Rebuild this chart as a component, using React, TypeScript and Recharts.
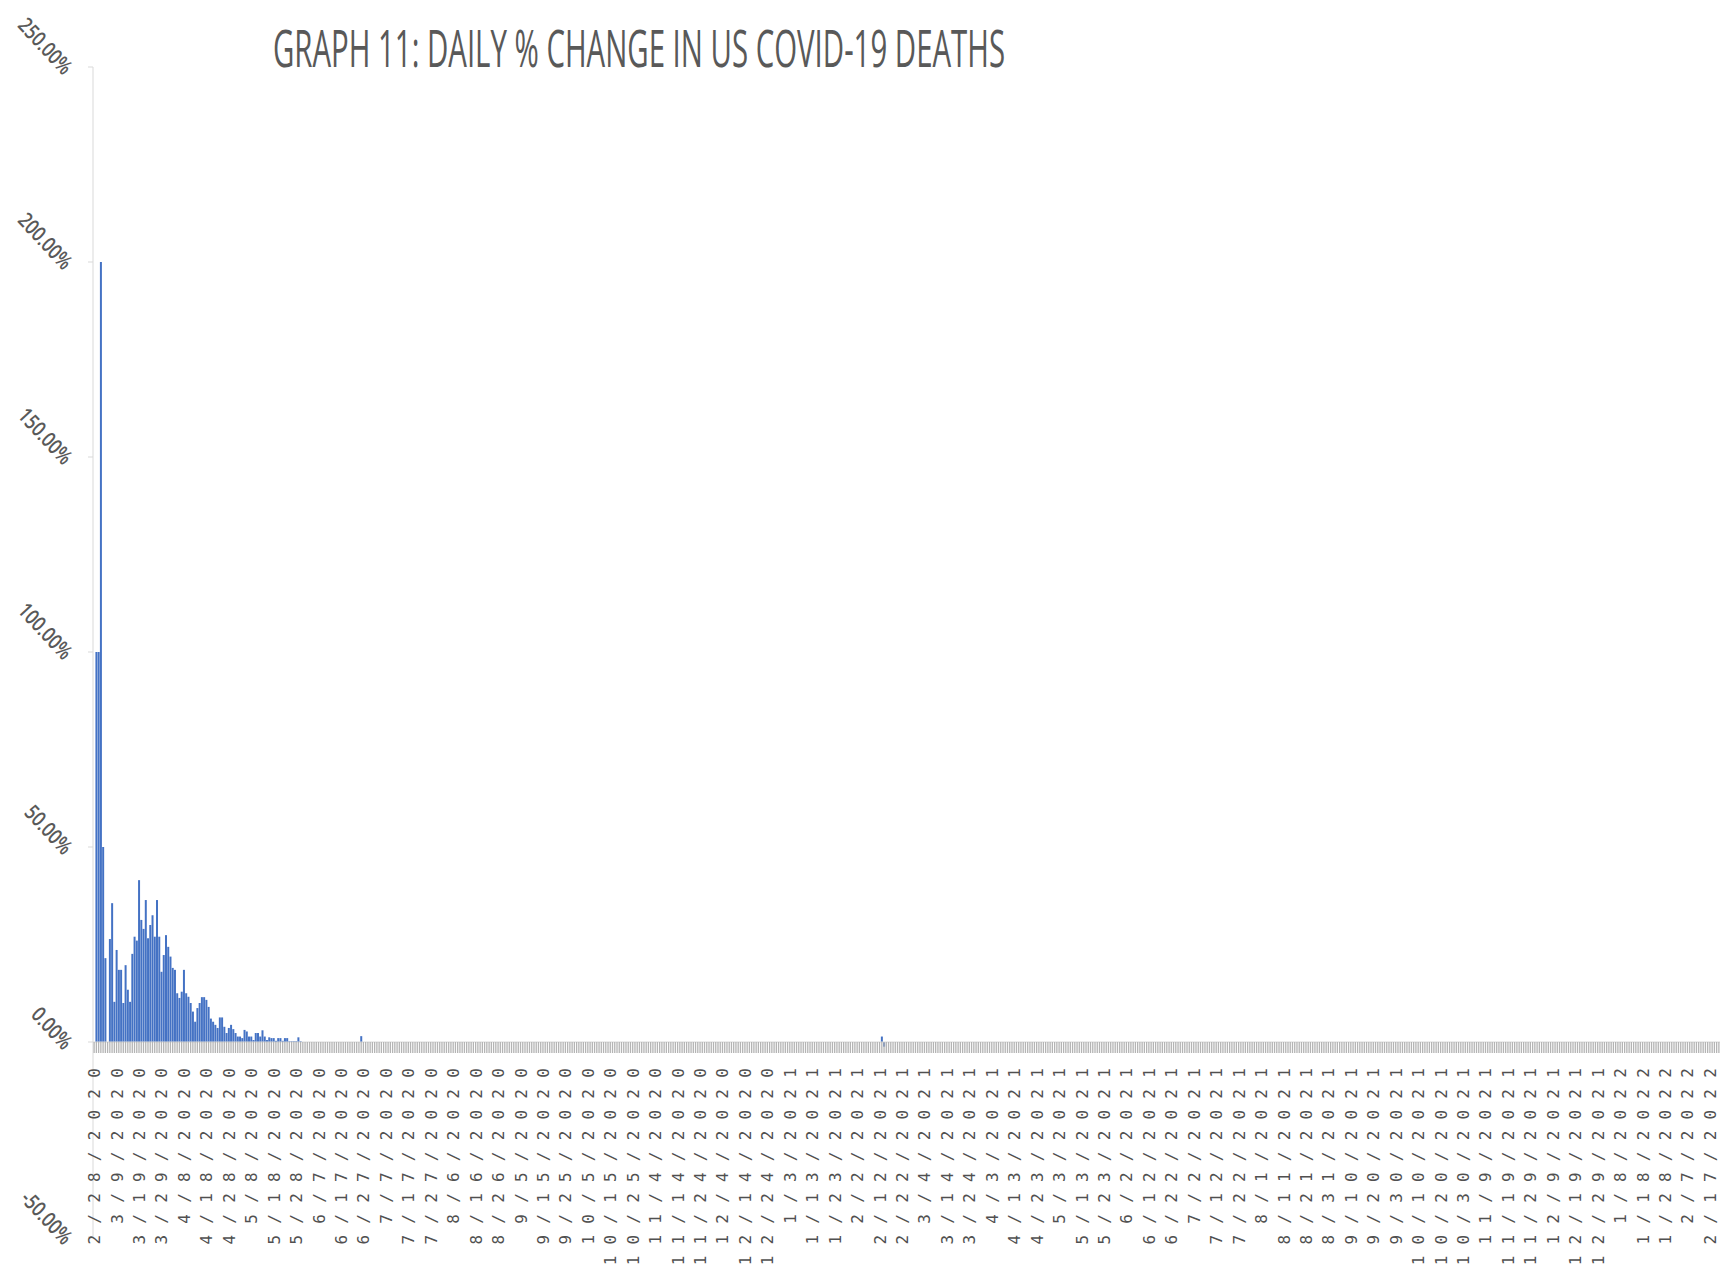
import React from 'react';
import { BarChart, Bar, XAxis, YAxis, ReferenceLine } from 'recharts';

const TITLE = 'GRAPH 11: DAILY % CHANGE IN US COVID-19 DEATHS';

// Category axis: one bar per day, 2/28/2020 .. 2/21/2022 (725 days), label every 10th day
const START_YEAR = 2020;
const START_MONTH = 2;
const START_DAY = 28;
const DAY_COUNT = 725;
const LABEL_EVERY = 10;

const Y_TICKS = [-50, 0, 50, 100, 150, 200, 250];
const Y_MIN = -50;
const Y_MAX = 250;

// Daily % change, starting 2/28/2020 (first 93 days)
const EARLY_VALUES = [
  0, 100, 100, 200, 50, 21.5, 0, 26.4, 35.6, 10.3,
  23.6, 18.5, 18.5, 10, 19.7, 13.4, 10.3, 22.6, 27, 26,
  41.5, 31.3, 29, 36.4, 26.6, 30, 32.5, 27, 36.4, 27,
  18, 22.3, 27.4, 24.4, 21.9, 19, 18.5, 12.5, 11.3, 12.9,
  18.5, 12.5, 11.6, 10, 7.8, 5.2, 8.7, 10, 11.5, 11.5,
  10.8, 9, 6, 5.2, 4.4, 3.6, 6.3, 6.3, 3.9, 2.3,
  3.6, 4.4, 3.3, 2.3, 1.4, 1.4, 1.0, 3.1, 2.7, 1.4,
  1.4, 0.5, 2.3, 2.3, 1.4, 3.0, 1.4, 0.5, 1.2, 1.0,
  1.0, 0.3, 1.0, 1.0, 0.3, 1.0, 1.0, 0.2, 0.2, 0.2,
  0.2, 1.2, 0.2,
];

// Isolated later bars that are visible; every other later day reads as 0.00%
const LATER_DATES = ['6/26/2020', '2/13/2021', '2/14/2021'];
const LATER_VALUES = [1.5, 1.4, -1.2];

// ---- layout ----
const CHART_W = 1734;
const CHART_H = 1278;
const MARGIN = { top: 67, right: 14, left: 13, bottom: 40 };
const Y_AXIS_W = 80;
const X_AXIS_H = 1;
const PLOT_H = CHART_H - MARGIN.top - MARGIN.bottom - X_AXIS_H;
const ZERO_FROM_BOTTOM = (PLOT_H * (0 - Y_MIN)) / (Y_MAX - Y_MIN);

const DATES: string[] = [];
{
  const d = new Date(START_YEAR, START_MONTH - 1, START_DAY);
  for (let i = 0; i < DAY_COUNT; i++) {
    DATES.push(`${d.getMonth() + 1}/${d.getDate()}/${d.getFullYear()}`);
    d.setDate(d.getDate() + 1);
  }
}

const data = DATES.map((date, i) => {
  let value = i < EARLY_VALUES.length ? EARLY_VALUES[i] : 0;
  const k = LATER_DATES.indexOf(date);
  if (k >= 0) value = LATER_VALUES[k];
  return { date, value };
});

const XTick = (props: any) => {
  const { x, y, payload, index } = props;
  const zeroY = y - ZERO_FROM_BOTTOM;
  const showLabel = index % LABEL_EVERY === 0;
  return (
    <g>
      <line x1={x} x2={x} y1={zeroY} y2={zeroY + 11} stroke="#b4b4b4" strokeWidth={1.3} />
      {showLabel && (
        <text
          x={0}
          y={0}
          transform={`translate(${x + 6},${zeroY + 15}) rotate(-90)`}
          textAnchor="end"
          fontFamily="DejaVu Sans Mono"
          fontSize={16}
          fill="#505050"
          style={{ letterSpacing: '11.2px' }}
        >
          {payload.value}
        </text>
      )}
    </g>
  );
};

const YTick = (props: any) => {
  const { x, y, payload } = props;
  return (
    <text
      x={0}
      y={0}
      transform={`translate(${x - 23},${y + 9}) rotate(47) scale(1,1.25)`}
      textAnchor="end"
      fontFamily="Open Sans"
      fontWeight={600}
      fontSize={17}
      fill="#595959"
    >
      {`${Number(payload.value).toFixed(2)}%`}
    </text>
  );
};

export default function App() {
  return (
    <div style={{ position: 'absolute', left: 0, top: 0, width: CHART_W, height: CHART_H, background: '#ffffff' }}>
      <BarChart
        width={CHART_W}
        height={CHART_H}
        data={data}
        margin={MARGIN}
        barCategoryGap="8%"
      >
        <XAxis
          dataKey="date"
          interval={0}
          height={X_AXIS_H}
          axisLine={false}
          tickLine={false}
          tickSize={0}
          tickMargin={0}
          tick={<XTick />}
        />
        <YAxis
          domain={[Y_MIN, Y_MAX]}
          ticks={Y_TICKS}
          width={Y_AXIS_W}
          axisLine={{ stroke: '#d9d9d9' }}
          tickLine={{ stroke: '#d9d9d9' }}
          tickSize={5}
          tick={<YTick />}
          allowDataOverflow
        />
        <ReferenceLine y={0} stroke="#d9d9d9" />
        <Bar dataKey="value" fill="#4472C4" isAnimationActive={false} />
      </BarChart>
      <svg style={{ position: 'absolute', left: 0, top: 0 }} width={CHART_W} height={100}>
        <text
          x={273}
          y={67}
          fontFamily="Open Sans"
          fontSize={52}
          fill="#595959"
          textLength={732}
          lengthAdjust="spacingAndGlyphs"
        >
          {TITLE}
        </text>
      </svg>
    </div>
  );
}
